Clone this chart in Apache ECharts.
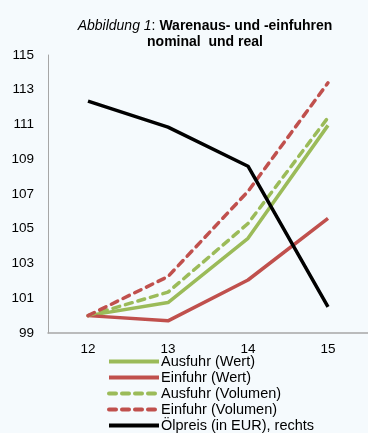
<!DOCTYPE html>
<html>
<head>
<meta charset="utf-8">
<script src="https://cdn.jsdelivr.net/npm/echarts@6/dist/echarts.min.js"></script>
<style>
html,body{margin:0;padding:0;background:#f5fafd;}
#c{width:368px;height:433px;}
</style>
</head>
<body>
<div id="c"></div>
<script>
var categories = ['12', '13', '14', '15'];
var ausfuhrWert = [100, 100.75, 104.45, 110.95];
var einfuhrWert = [100, 99.7, 102.05, 105.6];
var ausfuhrVolumen = [100, 101.35, 105.3, 111.4];
var einfuhrVolumen = [100, 102.25, 107.15, 113.4];
var oelpreis = [112.35, 110.85, 108.6, 100.5];
var yTicks = [99, 101, 103, 105, 107, 109, 111, 113, 115];

var font = 'Liberation Sans, Arial, sans-serif';
var green = '#9BBB59', red = '#C0504D', black = '#000000';

var chart = echarts.init(document.getElementById('c'));
function line(name, data, color, dashed, axis) {
  return {
    name: name, type: 'line', data: data, yAxisIndex: axis || 0,
    symbol: 'none', showSymbol: false, animation: false,
    lineStyle: {color: color, width: 3.5, type: dashed ? [7, 6] : 'solid', cap: dashed ? 'round' : 'butt'},
    itemStyle: {color: color}
  };
}
chart.setOption({
  backgroundColor: '#f5fafd',
  animation: false,
  title: {
    text: '{i|Abbildung 1}{n|: }{b|Warenaus- und -einfuhren}\n{b|nominal  und real}',
    left: 200, top: 13, textAlign: 'center',
    textStyle: {
      fontFamily: font, fontSize: 14, lineHeight: 16, color: '#000',
      rich: {
        i: {fontStyle: 'italic', fontWeight: 'normal', fontSize: 14, lineHeight: 16, fontFamily: font, color: '#000'},
        n: {fontWeight: 'normal', fontSize: 14, lineHeight: 16, fontFamily: font, color: '#000'},
        b: {fontWeight: 'bold', fontSize: 14, lineHeight: 16, fontFamily: font, color: '#000'}
      }
    }
  },
  grid: {left: 48, top: 55, width: 322, height: 278, containLabel: false},
  xAxis: {
    type: 'category', data: categories, boundaryGap: true,
    axisLine: {lineStyle: {color: '#a6a6a6', width: 1.5}},
    axisTick: {show: false},
    axisLabel: {fontFamily: font, fontSize: 13.5, color: '#000', margin: 9}
  },
  yAxis: [{
    type: 'value', min: 99, max: 115, interval: 2,
    axisLine: {show: true, lineStyle: {color: '#a6a6a6', width: 1}},
    axisTick: {show: false},
    splitLine: {show: false},
    axisLabel: {fontFamily: font, fontSize: 13.5, color: '#000', margin: 14,
      formatter: function (v) { return yTicks.indexOf(v) >= 0 ? String(v) : ''; }}
  }, {
    type: 'value', min: 99, max: 115, show: false, splitLine: {show: false}
  }],
  legend: {
    orient: 'vertical', left: 107, top: 354, padding: 0, height: 90,
    itemWidth: 50, itemHeight: 14, itemGap: 1,
    itemStyle: {opacity: 0},
    lineStyle: {width: 4},
    textStyle: {fontFamily: font, fontSize: 14.5, color: '#000', padding: [0, 0, 0, -3]},
    data: ['Ausfuhr (Wert)', 'Einfuhr (Wert)', 'Ausfuhr (Volumen)', 'Einfuhr (Volumen)', 'Ölpreis (in EUR), rechts']
  },
  series: [
    line('Ausfuhr (Wert)', ausfuhrWert, green, false),
    line('Einfuhr (Wert)', einfuhrWert, red, false),
    line('Ausfuhr (Volumen)', ausfuhrVolumen, green, true),
    line('Einfuhr (Volumen)', einfuhrVolumen, red, true),
    line('Ölpreis (in EUR), rechts', oelpreis, black, false, 1)
  ]
});
</script>
</body>
</html>
